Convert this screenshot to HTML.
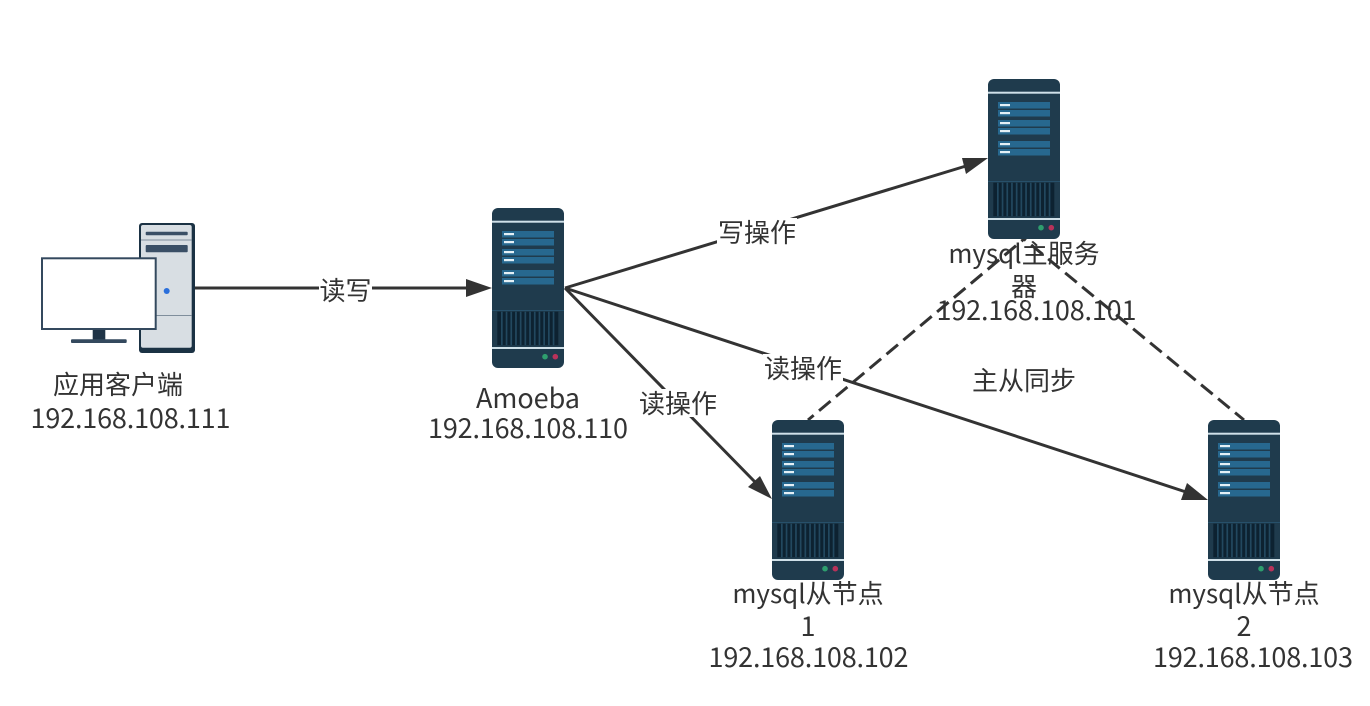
<!DOCTYPE html>
<html><head><meta charset="utf-8">
<style>
html,body{margin:0;padding:0;background:#fff}
svg{display:block}
text{font-family:"Noto Sans CJK SC","Liberation Sans",sans-serif;font-size:26px;fill:#333;text-anchor:middle}
.n{font-size:27px}
</style></head>
<body>
<svg width="1370" height="706" viewBox="0 0 1370 706" xmlns="http://www.w3.org/2000/svg">
<defs>
<symbol id="srv" width="72" height="160" viewBox="0 0 72 160">
<rect width="72" height="160" rx="6" fill="#1f3b4d"/>
<rect y="12.700" width="72" height="2" fill="#cfe0e8"/>
<g fill="#27688f">
<rect x="10" y="23" width="52" height="6.500"/><rect x="10" y="31" width="52" height="6.500"/>
<rect x="10" y="41" width="52" height="6.500"/><rect x="10" y="49" width="52" height="6.500"/>
<rect x="10" y="62" width="52" height="6.500"/><rect x="10" y="70" width="52" height="6.500"/>
</g>
<g fill="#e4f0f6">
<rect x="12" y="25" width="10" height="2.200"/><rect x="12" y="33" width="10" height="2.200"/>
<rect x="12" y="43" width="10" height="2.200"/><rect x="12" y="51" width="10" height="2.200"/>
<rect x="12" y="64" width="10" height="2.200"/><rect x="12" y="72" width="10" height="2.200"/>
</g>
<rect y="102" width="72" height="1" fill="#27506a"/>
<rect x="5.300" y="103.700" width="61" height="33.500" fill="#0d2231"/>
<g fill="#22485f">
<rect x="9" y="103.700" width="1.700" height="33.500"/><rect x="13.700" y="103.700" width="1.700" height="33.500"/><rect x="18.400" y="103.700" width="1.700" height="33.500"/><rect x="23.100" y="103.700" width="1.700" height="33.500"/><rect x="27.800" y="103.700" width="1.700" height="33.500"/><rect x="32.500" y="103.700" width="1.700" height="33.500"/><rect x="37.200" y="103.700" width="1.700" height="33.500"/><rect x="41.900" y="103.700" width="1.700" height="33.500"/><rect x="46.600" y="103.700" width="1.700" height="33.500"/><rect x="51.300" y="103.700" width="1.700" height="33.500"/><rect x="56" y="103.700" width="1.700" height="33.500"/><rect x="60.700" y="103.700" width="1.700" height="33.500"/>
</g>
<rect y="139" width="72" height="2" fill="#cfe0e8"/>
<circle cx="53" cy="148.700" r="2.800" fill="#2e9e6e"/>
<circle cx="63.300" cy="148.700" r="2.800" fill="#b8325a"/>
</symbol>
</defs>

<!-- connectors -->
<g fill="none" stroke="#333" stroke-width="3">
<path d="M195 288H470"/>
<path d="M565 288L966 166"/>
<path d="M565 288L755 482"/>
<path d="M565 288L1186 492"/>
<path d="M808 420L1024 239" stroke-dasharray="15 7" stroke-dashoffset="7.600"/>
<path d="M1244 420L1024 239" stroke-dasharray="15 7" stroke-dashoffset="3.400"/>
</g>
<g fill="#333">
<path d="M492 288L466 279V297Z"/>
<path d="M988 158L962 158L966 174Z"/>
<path d="M772 499L748 487L760 476Z"/>
<path d="M1208 500L1181 500L1187 483Z"/>
</g>

<!-- PC -->
<rect x="139" y="223" width="56" height="130" rx="3" fill="#1b3244"/>
<rect x="141" y="225" width="50.700" height="122.700" rx="2" fill="#d8dee3"/>
<rect x="141" y="239.500" width="50.700" height="1" fill="#7f8e9c"/>
<rect x="141" y="315" width="50.700" height="1" fill="#7f8e9c"/>
<rect x="145.700" y="231.700" width="42" height="3.500" rx="1" fill="#3a4f66"/>
<rect x="145.700" y="245" width="42" height="7.200" rx="1" fill="#3a4f66"/>
<circle cx="166.700" cy="291" r="3" fill="#2a6fdb"/>
<rect x="92.700" y="330" width="12.600" height="10" fill="#1f3447"/>
<rect x="71" y="339.300" width="55.700" height="3.700" rx="1" fill="#34495e"/>
<rect x="42" y="258.300" width="113.700" height="70.700" fill="#fff" stroke="#34495e" stroke-width="2"/>

<!-- servers -->
<use href="#srv" x="988" y="79" width="72" height="160"/>
<use href="#srv" x="492" y="208" width="72" height="160"/>
<use href="#srv" x="772" y="420" width="72" height="160"/>
<use href="#srv" x="1208" y="420" width="72" height="160"/>

<!-- edge labels -->
<g fill="#fff">
<rect x="319" y="276" width="53" height="28"/>
<rect x="717" y="218" width="80" height="28"/>
<rect x="638" y="389" width="80" height="28"/>
<rect x="763" y="354" width="80" height="28"/>
</g>
<text x="345.500" y="300">读写</text>
<text x="757" y="242">写操作</text>
<text x="678" y="413">读操作</text>
<text x="803" y="378">读操作</text>
<text x="1024" y="390">主从同步</text>

<!-- node labels -->
<text x="118" y="394">应用客户端</text>
<text class="n" x="130.500" y="428" textLength="200">192.168.108.111</text>
<text class="n" x="528" y="408" textLength="104">Amoeba</text>
<text class="n" x="528" y="438" textLength="200">192.168.108.110</text>
<text x="1024" y="263">mysql主服务</text>
<text x="1024" y="296">器</text>
<text class="n" x="1036.500" y="320" textLength="200">192.168.108.101</text>
<text x="808" y="603">mysql从节点</text>
<text class="n" x="808" y="636">1</text>
<text class="n" x="808.500" y="667" textLength="200">192.168.108.102</text>
<text x="1244" y="603">mysql从节点</text>
<text class="n" x="1244" y="636">2</text>
<text class="n" x="1253" y="667" textLength="200">192.168.108.103</text>
</svg>
</body></html>
